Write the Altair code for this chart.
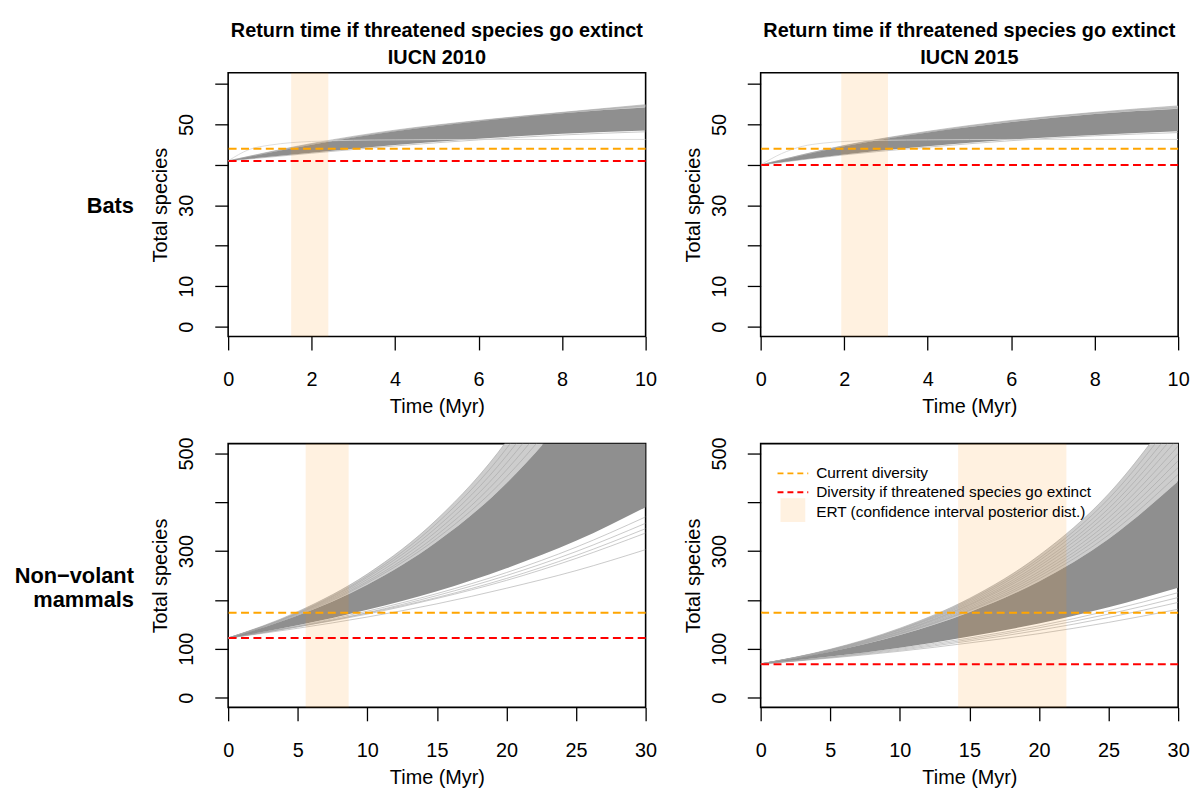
import json
import altair as alt
import pandas as pd

FONT = "Liberation Sans"

# ---------------- text ----------------
COL_TITLES = [["Return time if threatened species go extinct", "IUCN 2010"],
              ["Return time if threatened species go extinct", "IUCN 2015"]]
ROW_LABELS = [["Bats"], ["Non\u2212volant", "mammals"]]
X_TITLE = "Time (Myr)"
Y_TITLE = "Total species"
LEGEND_LABELS = ["Current diversity",
                 "Diversity if threatened species go extinct",
                 "ERT (confidence interval posterior dist.)"]

# ---------------- axes ----------------
BATS_X_TICKS = [0, 2, 4, 6, 8, 10]
BATS_Y_TICKS = [0, 10, 20, 30, 40, 50, 60]
BATS_Y_LABELED = [0, 10, 30, 50]
NV_X_TICKS = [0, 5, 10, 15, 20, 25, 30]
NV_Y_TICKS = [0, 100, 200, 300, 400, 500]
NV_Y_LABELED = [0, 100, 300, 500]
BATS_X_DOMAIN = [0, 10]
BATS_Y_DOMAIN = [-2.45, 62.8]
NV_X_DOMAIN = [0, 30]
NV_Y_DOMAIN = [-20, 520]

# ---------------- time grids ----------------
BATS_T = [0, 2, 4, 6, 8, 10]
NV_T = [0, 5, 10, 15, 20, 25, 30]
FAINT_T = [0, 0.5, 1, 1.5, 2, 3, 4, 6, 8, 10]

# ---------------- Bats, IUCN 2010 ----------------
B10_CORE_LOW = [41, 43.0, 44.9, 46.5, 47.7, 48.5]
B10_CORE_HIGH = [41, 45.0, 48.3, 50.8, 52.8, 54.2]
B10_ENVELOPE = [41, 45.3, 48.6, 51.0, 53.0, 54.9]
B10_LINES = [[41, 45.3, 48.6, 51.0, 53.0, 54.9],
             [41, 45.1, 48.4, 50.9, 52.9, 54.6],
             [41, 42.9, 44.7, 46.2, 47.4, 48.2]]
B10_FAINT = [41, 43.8, 44.9, 45.5, 45.8, 46.1, 46.2, 46.3, 46.3, 46.3]
B10_CURRENT = 44.0
B10_EXTINCT = 41.0
B10_ERT = [1.51, 2.40]

# ---------------- Bats, IUCN 2015 ----------------
B15_CORE_LOW = [40, 42.6, 44.6, 46.3, 47.4, 48.3]
B15_CORE_HIGH = [40, 44.6, 48.0, 50.6, 52.6, 53.9]
B15_ENVELOPE = [40, 44.8, 48.3, 51.0, 53.0, 54.6]
B15_LINES = [[40, 44.8, 48.3, 51.0, 53.0, 54.6],
             [40, 44.7, 48.1, 50.8, 52.8, 54.2],
             [40, 42.5, 44.4, 46.0, 47.2, 48.0]]
B15_FAINT = [40, 42.8, 44.6, 45.4, 45.8, 46.1, 46.2, 46.3, 46.3, 46.3]
B15_CURRENT = 44.0
B15_EXTINCT = 40.0
B15_ERT = [1.93, 3.05]

# ---------------- Non-volant, IUCN 2010 ----------------
N10_CORE_LOW = [122, 148, 180, 218, 265, 321, 390]
N10_CORE_HIGH = [122, 168, 231, 319, 439, 604, 832]
N10_ENVELOPE = [122, 176, 253, 365, 525, 757, 1090]
N10_LINES = [[122, 169, 235, 326, 452, 627, 870],
             [122, 171, 238, 333, 466, 651, 910],
             [122, 172, 242, 341, 480, 676, 954],
             [122, 173, 246, 349, 495, 702, 996],
             [122, 174, 249, 357, 510, 729, 1042],
             [122, 176, 253, 365, 525, 757, 1090],
             [122, 147, 177, 213, 256, 308, 370],
             [122, 146, 174, 209, 250, 299, 357],
             [122, 145, 173, 205, 244, 291, 346],
             [122, 145, 171, 203, 240, 285, 337],
             [122, 142, 165, 192, 224, 260, 303]]
N10_CURRENT = 174
N10_EXTINCT = 122
N10_ERT = [5.57, 8.66]

# ---------------- Non-volant, IUCN 2015 ----------------
N15_CORE_LOW = [69, 84, 102, 125, 152, 185, 225]
N15_CORE_HIGH = [69, 94, 128, 175, 238, 325, 443]
N15_ENVELOPE = [69, 99, 142, 203, 291, 417, 598]
N15_LINES = [[69, 95, 130, 178, 243, 333, 457],
             [69, 95, 131, 180, 248, 342, 471],
             [69, 95, 132, 183, 253, 350, 485],
             [69, 96, 134, 186, 258, 359, 500],
             [69, 96, 135, 189, 264, 368, 515],
             [69, 97, 136, 191, 269, 378, 531],
             [69, 97, 138, 194, 274, 387, 547],
             [69, 98, 139, 197, 280, 397, 563],
             [69, 98, 140, 200, 285, 407, 581],
             [69, 99, 142, 203, 291, 417, 598],
             [69, 83, 101, 122, 147, 178, 215],
             [69, 83, 99, 119, 143, 171, 205],
             [69, 82, 97, 116, 138, 164, 195],
             [69, 81, 95, 112, 131, 154, 181]]
N15_CURRENT = 174
N15_EXTINCT = 68.5
N15_ERT = [14.19, 21.97]

# ---------------- styling ----------------
W, H = 421, 266
CORE_GREY = "#8f8f8f"
OUTER_GREY = "#cdcdcd"
LINE_GREY = "#a6a6a6"
FAINT_GREY = "#d4d4d4"
ORANGE = "#FFA500"
RED = "#FF0000"
BAND = "#ff8c00"
BAND_OPACITY = 0.12
DASH = [8, 4.5]


def lines_df(t, series):
    rows = []
    for i, vals in enumerate(series):
        for tt, vv in zip(t, vals):
            rows.append({"id": i, "t": tt, "v": vv})
    return pd.DataFrame(rows)


def make_panel(t, lo, hi, env, lines, faint, current, extinct, ert, xdom, ydom,
               xticks, yticks, ylabeled, title=None, row_label=None, legend=False):
    xs = alt.Scale(domain=xdom, nice=False, zero=False)
    ys = alt.Scale(domain=ydom, nice=False, zero=False)
    xaxis = alt.Axis(values=xticks, title=X_TITLE, titleX=W / 2, titleY=71,
                     titleBaseline="middle", labelPadding=20)
    yaxis = alt.Axis(values=yticks, title=Y_TITLE, titleX=-68, titleY=H / 2,
                     titleBaseline="middle", titleAngle=270, labelAngle=270,
                     labelAlign="center", labelBaseline="middle", labelPadding=28,
                     labelExpr="indexof(" + json.dumps(ylabeled) + ", datum.value) >= 0 ? datum.label : ''")

    def X(f):
        return alt.X(f, scale=xs, axis=xaxis)

    def Y(f):
        return alt.Y(f, scale=ys, axis=yaxis)

    layers = []
    outer = alt.Chart(pd.DataFrame({"t": t, "lo": hi, "hi": env})).mark_area(
        color=OUTER_GREY, interpolate="monotone", clip=True
    ).encode(x=X("t:Q"), y=Y("lo:Q"), y2="hi:Q")
    layers.append(outer)

    ln = alt.Chart(lines_df(t, lines)).mark_line(
        color=LINE_GREY, strokeWidth=0.6, interpolate="monotone", clip=True
    ).encode(x=X("t:Q"), y=Y("v:Q"), detail="id:N")
    layers.append(ln)

    area = alt.Chart(pd.DataFrame({"t": t, "lo": lo, "hi": hi})).mark_area(
        color=CORE_GREY, interpolate="monotone", clip=True
    ).encode(x=X("t:Q"), y=Y("lo:Q"), y2="hi:Q")
    layers.append(area)

    if faint is not None:
        fl = alt.Chart(pd.DataFrame({"t": FAINT_T, "v": faint})).mark_line(
            color=FAINT_GREY, strokeWidth=0.8, interpolate="monotone", clip=True
        ).encode(x=X("t:Q"), y=Y("v:Q"))
        layers.append(fl)

    band = alt.Chart(pd.DataFrame({"x1": [ert[0]], "x2": [ert[1]]})).mark_rect(
        color=BAND, opacity=BAND_OPACITY
    ).encode(x=X("x1:Q"), x2="x2:Q")
    layers.append(band)

    cur = alt.Chart(pd.DataFrame({"v": [current]})).mark_rule(
        color=ORANGE, strokeWidth=2, strokeDash=DASH
    ).encode(y=Y("v:Q"))
    ext = alt.Chart(pd.DataFrame({"v": [extinct]})).mark_rule(
        color=RED, strokeWidth=2, strokeDash=DASH
    ).encode(y=Y("v:Q"))
    layers += [cur, ext]

    one = pd.DataFrame({"k": [0]})
    if row_label is not None:
        rl = alt.Chart(one).mark_text(
            text=row_label, font=FONT, fontSize=22, fontWeight="bold",
            align="right", baseline="middle", lineHeight=24, color="black"
        ).encode(x=alt.value(-95), y=alt.value(H / 2 + 1))
        layers.append(rl)

    if legend:
        s1 = alt.Chart(one).mark_rule(color=ORANGE, strokeWidth=2, strokeDash=[6, 4]).encode(
            x=alt.value(17), x2=alt.value(48), y=alt.value(30))
        s2 = alt.Chart(one).mark_rule(color=RED, strokeWidth=2, strokeDash=[6, 4]).encode(
            x=alt.value(17), x2=alt.value(48), y=alt.value(49))
        s3 = alt.Chart(one).mark_rect(color=BAND, opacity=BAND_OPACITY).encode(
            x=alt.value(20), x2=alt.value(45), y=alt.value(55), y2=alt.value(79))
        layers += [s1, s2, s3]
        for i, lab in enumerate(LEGEND_LABELS):
            layers.append(alt.Chart(one).mark_text(
                text=lab, font=FONT, fontSize=15.5, align="left", baseline="middle", color="black"
            ).encode(x=alt.value(56), y=alt.value(30 + 19.3 * i)))

    ch = alt.layer(*layers).properties(width=W, height=H)
    if title is not None:
        ch = ch.properties(title=alt.TitleParams(
            text=title, font=FONT, fontSize=20, fontWeight="bold", color="black",
            anchor="middle", frame="group", lineHeight=27, offset=5))
    return ch


tl = make_panel(BATS_T, B10_CORE_LOW, B10_CORE_HIGH, B10_ENVELOPE, B10_LINES, B10_FAINT,
                B10_CURRENT, B10_EXTINCT, B10_ERT, BATS_X_DOMAIN, BATS_Y_DOMAIN,
                BATS_X_TICKS, BATS_Y_TICKS, BATS_Y_LABELED,
                title=COL_TITLES[0], row_label=ROW_LABELS[0])
tr = make_panel(BATS_T, B15_CORE_LOW, B15_CORE_HIGH, B15_ENVELOPE, B15_LINES, B15_FAINT,
                B15_CURRENT, B15_EXTINCT, B15_ERT, BATS_X_DOMAIN, BATS_Y_DOMAIN,
                BATS_X_TICKS, BATS_Y_TICKS, BATS_Y_LABELED, title=COL_TITLES[1])
bl = make_panel(NV_T, N10_CORE_LOW, N10_CORE_HIGH, N10_ENVELOPE, N10_LINES, None,
                N10_CURRENT, N10_EXTINCT, N10_ERT, NV_X_DOMAIN, NV_Y_DOMAIN,
                NV_X_TICKS, NV_Y_TICKS, NV_Y_LABELED, row_label=ROW_LABELS[1])
br = make_panel(NV_T, N15_CORE_LOW, N15_CORE_HIGH, N15_ENVELOPE, N15_LINES, None,
                N15_CURRENT, N15_EXTINCT, N15_ERT, NV_X_DOMAIN, NV_Y_DOMAIN,
                NV_X_TICKS, NV_Y_TICKS, NV_Y_LABELED, legend=True)

chart = alt.concat(tl, tr, bl, br, columns=2, spacing={"row": 18, "column": 25}).configure_view(
    stroke="black", strokeWidth=1.6
).configure_axis(
    labelFont=FONT, titleFont=FONT, labelFontSize=20, titleFontSize=20,
    titleFontWeight="normal", labelColor="black", titleColor="black",
    tickColor="black", tickSize=13.5, tickWidth=1.3, domain=False, grid=False,
    labelOverlap=False, labelFlush=False
).properties(background="white", padding={"left": 5, "top": 9, "right": 5, "bottom": 0})

chart.save("out.html", embed_options={"renderer": "svg", "actions": False})
